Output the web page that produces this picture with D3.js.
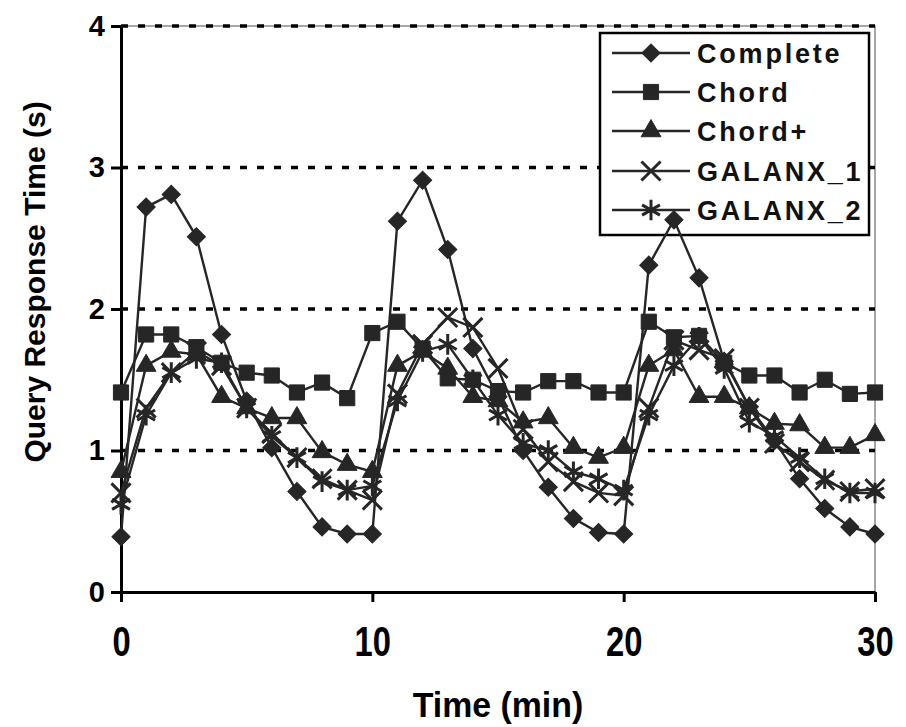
<!DOCTYPE html>
<html>
<head>
<meta charset="utf-8">
<script src="https://cdn.jsdelivr.net/npm/d3@7"></script>
<style>
  body { margin: 0; background: #fff; }
  svg { display: block; font-family: "Liberation Sans", Arial, sans-serif; }
  .grid line { stroke: #000; stroke-width: 3.5; stroke-dasharray: 7,10; }
  .axis path, .axis line { stroke: #000; stroke-width: 3; }
  .axis text { font-weight: bold; fill: #000; }
  .series path.line { fill: none; stroke: #262626; stroke-width: 2.4; }
</style>
</head>
<body>
<svg id="chart" width="906" height="727"></svg>
<script>
// minutes 0..30
var minutes = d3.range(0, 31);

var complete = [0.39, 2.72, 2.81, 2.51, 1.82, 1.35, 1.02, 0.71, 0.46, 0.41, 0.41,
                2.62, 2.91, 2.42, 1.72, 1.38, 1.00, 0.74, 0.52, 0.42, 0.41,
                2.31, 2.63, 2.22, 1.63, 1.31, 1.07, 0.80, 0.59, 0.46, 0.41];
var chord    = [1.41, 1.82, 1.82, 1.73, 1.62, 1.55, 1.53, 1.41, 1.48, 1.37, 1.83,
                1.91, 1.72, 1.51, 1.50, 1.42, 1.41, 1.49, 1.49, 1.41, 1.41,
                1.91, 1.80, 1.81, 1.62, 1.53, 1.53, 1.41, 1.50, 1.40, 1.41];
var chordPlus = [0.85, 1.60, 1.70, 1.68, 1.38, 1.30, 1.23, 1.23, 0.99, 0.90, 0.85,
                 1.60, 1.70, 1.58, 1.38, 1.35, 1.20, 1.23, 1.02, 0.95, 1.02,
                 1.60, 1.71, 1.38, 1.38, 1.30, 1.19, 1.18, 1.02, 1.02, 1.11];
var galanx1  = [0.70, 1.30, 1.55, 1.70, 1.60, 1.30, 1.12, 0.95, 0.80, 0.72, 0.65,
                1.40, 1.75, 1.94, 1.87, 1.58, 1.15, 0.92, 0.78, 0.70, 0.68,
                1.30, 1.78, 1.71, 1.65, 1.30, 1.05, 0.92, 0.79, 0.71, 0.73];
var galanx2  = [0.62, 1.25, 1.55, 1.65, 1.62, 1.30, 1.10, 0.95, 0.78, 0.72, 0.75,
                1.35, 1.70, 1.75, 1.50, 1.25, 1.05, 1.00, 0.85, 0.80, 0.72,
                1.25, 1.60, 1.80, 1.58, 1.20, 1.10, 0.95, 0.80, 0.70, 0.70];

var seriesNames = ["Complete", "Chord", "Chord+", "GALANX_1", "GALANX_2"];
var seriesValues = [complete, chord, chordPlus, galanx1, galanx2];

var xTicks = [0, 10, 20, 30];
var yTicks = [0, 1, 2, 3, 4];
var gridTicks = [1, 2, 3, 4];

var svg = d3.select("#chart");

var x = d3.scaleLinear().domain([0, 30]).range([121, 875]);
var y = d3.scaleLinear().domain([0, 4]).range([592, 26]);

// marker shapes, one per series
var markers = [
  { type: d3.symbolSquare,   size: 165, rotate: 45, fill: true },
  { type: d3.symbolSquare,   size: 230, rotate: 0,  fill: true },
  { type: d3.symbolTriangle, size: 170, rotate: 0,  fill: true },
  { type: d3.symbolTimes,    size: 240, rotate: 0,  fill: false },
  { type: d3.symbolAsterisk, size: 300, rotate: 0,  fill: false }
];

function drawMarker(sel, m) {
  sel.append("path")
      .attr("d", d3.symbol().type(m.type).size(m.size))
      .attr("transform", function(d) {
        return "translate(" + d[0] + "," + d[1] + ") rotate(" + m.rotate + ")";
      })
      .attr("fill", m.fill ? "#262626" : "none")
      .attr("stroke", "#262626")
      .attr("stroke-width", m.fill ? 1 : 3);
}

// plot frame (thin grey, top and right)
svg.append("path")
    .attr("d", "M" + x(0) + "," + y(4) + "H" + x(30) + "V" + y(0))
    .attr("fill", "none")
    .attr("stroke", "#8a8a8a")
    .attr("stroke-width", 1.5);

// dotted grid
svg.append("g")
    .classed("grid", true)
  .selectAll("line")
    .data(gridTicks)
  .enter().append("line")
    .attr("x1", x(0))
    .attr("x2", x(30))
    .attr("y1", function(d) { return y(d); })
    .attr("y2", function(d) { return y(d); });

// axes
var yAxis = svg.append("g")
    .classed("axis", true)
    .attr("transform", "translate(" + x(0) + ",0)")
    .call(d3.axisLeft(y).tickValues(yTicks).tickSize(10).tickSizeOuter(0).tickPadding(6).tickFormat(d3.format("d")));
yAxis.selectAll("text").style("font-size", "29px");

var xAxis = svg.append("g")
    .classed("axis", true)
    .attr("transform", "translate(0," + y(0) + ")")
    .call(d3.axisBottom(x).tickValues(xTicks).tickSize(10).tickSizeOuter(0).tickFormat(d3.format("d")));
xAxis.selectAll("text")
    .style("font-size", "42px")
    .attr("dy", null)
    .attr("y", 64)
    .attr("transform", "scale(0.78,1)");

// axis titles
svg.append("text")
    .attr("transform", "translate(498,717) scale(0.94,1)")
    .attr("text-anchor", "middle")
    .style("font-size", "36px")
    .style("font-weight", "bold")
    .text("Time (min)");

svg.append("text")
    .attr("transform", "translate(45,282) rotate(-90)")
    .attr("text-anchor", "middle")
    .style("font-size", "30px")
    .style("font-weight", "bold")
    .text("Query Response Time (s)");

// legend
var legend = svg.append("g").classed("legend", true);
legend.append("rect")
    .attr("x", 600).attr("y", 33)
    .attr("width", 269).attr("height", 202)
    .attr("fill", "#fff")
    .attr("stroke", "#000")
    .attr("stroke-width", 2.5);

var legendRows = [53, 92, 131, 171, 210];

seriesNames.forEach(function(name, i) {
  var row = legend.append("g");
  row.append("line")
      .attr("x1", 612).attr("x2", 690)
      .attr("y1", legendRows[i]).attr("y2", legendRows[i])
      .attr("stroke", "#262626")
      .attr("stroke-width", 2.4);
  drawMarker(row.selectAll(".m").data([[651, legendRows[i]]]).enter(), markers[i]);
  row.append("text")
      .attr("x", 697)
      .attr("y", legendRows[i] + 10)
      .style("font-size", "27px")
      .style("font-weight", "bold")
      .style("letter-spacing", "2.8px")
      .attr("fill", "#111")
      .text(name);
});

// series lines and markers
var line = d3.line()
    .x(function(d) { return d[0]; })
    .y(function(d) { return d[1]; });

seriesValues.forEach(function(vals, i) {
  var pts = vals.map(function(v, j) { return [x(minutes[j]), y(v)]; });
  var g = svg.append("g").classed("series", true);
  g.append("path")
      .classed("line", true)
      .attr("d", line(pts));
  drawMarker(g.selectAll(".m").data(pts).enter(), markers[i]);
});
</script>
</body>
</html>
